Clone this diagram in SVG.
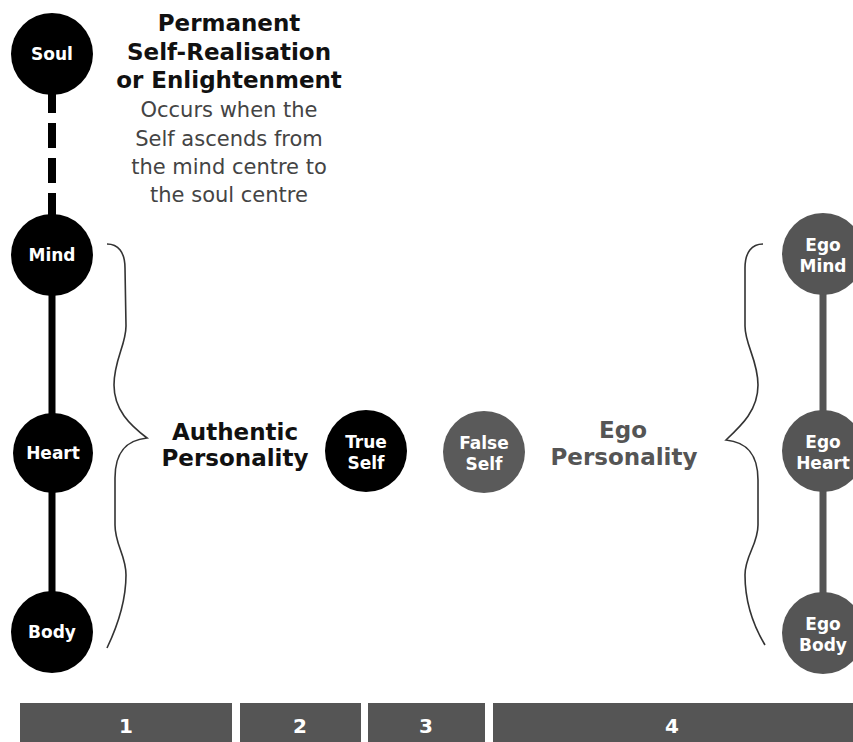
<svg xmlns="http://www.w3.org/2000/svg" width="853" height="742" viewBox="0 0 853 742">
<style>
.blk{fill:#000}
.gry{fill:#555}
.lbl{font-family:"DejaVu Sans",Verdana,sans-serif;font-weight:bold;font-size:17px;fill:#fff;text-anchor:middle}
.ttl{font-family:"DejaVu Sans",Verdana,sans-serif;font-weight:bold;font-size:23px;fill:#111;text-anchor:middle}
.txt{font-family:"DejaVu Sans",Verdana,sans-serif;font-size:21px;fill:#444;text-anchor:middle}
.num{font-family:"DejaVu Sans",Verdana,sans-serif;font-weight:bold;font-size:20px;fill:#fff;text-anchor:middle}
.brace{fill:none;stroke:#333;stroke-width:1.6}
</style>
<rect width="853" height="742" fill="#fff"/>
<g id="connectors">
<line x1="52" y1="88" x2="52" y2="220" stroke="#000" stroke-width="8" stroke-dasharray="25 10"/>
<line x1="52" y1="255" x2="52" y2="632" stroke="#000" stroke-width="7"/>
<line x1="823" y1="255" x2="823" y2="632" stroke="#555" stroke-width="7"/>
<path class="brace" d="M107,244 C118,244 125,252 125,268 L126,326 C126,345 114,360 114,385 C114,410 130,425 147,438 C128,440 115,450 115,478 L115,525 C115,545 126,555 126,575 C126,600 118,625 107,648"/>
<path class="brace" d="M763,244 C752,244 745,252 745,268 L745,326 C745,345 758,360 758,385 C758,410 742,425 726,440 C745,442 758,452 758,480 L758,525 C758,545 745,555 745,575 C745,600 753,625 765,645"/>
</g>
<g id="soul"><circle class="blk" cx="52" cy="54" r="41"/><text class="lbl" x="52" y="60">Soul</text></g>
<g id="mind"><circle class="blk" cx="52" cy="255" r="41"/><text class="lbl" x="52" y="261">Mind</text></g>
<g id="heart"><circle class="blk" cx="53" cy="453" r="40"/><text class="lbl" x="53" y="459">Heart</text></g>
<g id="body"><circle class="blk" cx="52" cy="632" r="41"/><text class="lbl" x="52" y="638">Body</text></g>
<g id="enlightenment">
<text class="ttl" x="229" y="31">Permanent</text>
<text class="ttl" x="229" y="60">Self-Realisation</text>
<text class="ttl" x="229" y="88">or Enlightenment</text>
<text class="txt" x="229" y="117">Occurs when the</text>
<text class="txt" x="229" y="146">Self ascends from</text>
<text class="txt" x="229" y="174">the mind centre to</text>
<text class="txt" x="229" y="202">the soul centre</text>
</g>
<g id="authentic-personality">
<text class="ttl" x="235" y="440">Authentic</text>
<text class="ttl" x="235" y="466">Personality</text>
</g>
<g id="true-self"><circle class="blk" cx="366" cy="451" r="41"/><text class="lbl" x="366" y="448">True</text><text class="lbl" x="366" y="469">Self</text></g>
<g id="false-self"><circle fill="#5a5a5a" cx="484" cy="452" r="41"/><text class="lbl" x="484" y="449">False</text><text class="lbl" x="484" y="470">Self</text></g>
<g id="ego-personality">
<text class="ttl" x="623" y="438" style="fill:#555">Ego</text>
<text class="ttl" x="624" y="465" style="fill:#555">Personality</text>
</g>
<g id="ego-mind"><circle class="gry" cx="823" cy="254" r="41"/><text class="lbl" x="823" y="251">Ego</text><text class="lbl" x="823" y="272">Mind</text></g>
<g id="ego-heart"><circle class="gry" cx="823" cy="451" r="41"/><text class="lbl" x="823" y="448">Ego</text><text class="lbl" x="823" y="469">Heart</text></g>
<g id="ego-body"><circle class="gry" cx="823" cy="633" r="41"/><text class="lbl" x="823" y="630">Ego</text><text class="lbl" x="823" y="651">Body</text></g>
<g id="bar-1"><rect class="gry" x="20" y="703" width="212" height="39"/><text class="num" x="126" y="733">1</text></g>
<g id="bar-2"><rect class="gry" x="240" y="703" width="121" height="39"/><text class="num" x="300" y="733">2</text></g>
<g id="bar-3"><rect class="gry" x="368" y="703" width="117" height="39"/><text class="num" x="426" y="733">3</text></g>
<g id="bar-4"><rect class="gry" x="493" y="703" width="360" height="39"/><text class="num" x="672" y="733">4</text></g>
</svg>
